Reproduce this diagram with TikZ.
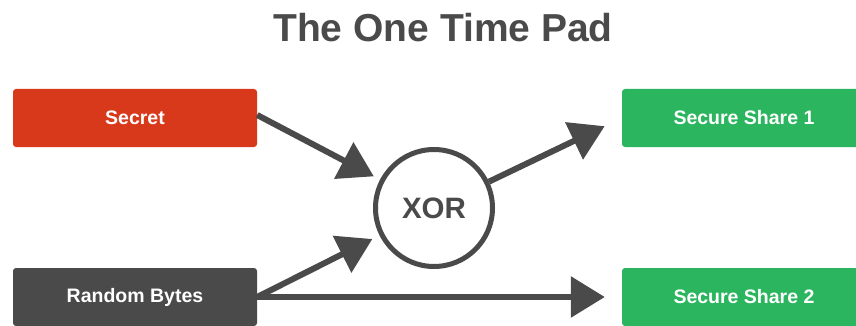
\documentclass[tikz,border=0pt]{standalone}
\usepackage{fontspec}
\setmainfont{Liberation Sans}
\usetikzlibrary{arrows.meta,positioning}
\definecolor{secretred}{HTML}{D9391B}
\definecolor{sharegreen}{HTML}{2AB55E}
\definecolor{darkgrey}{HTML}{4A4A4A}

\begin{document}
\begin{tikzpicture}[x=1pt, y=-1pt,
  box/.style={rounded corners=3pt, minimum width=244pt, minimum height=58pt,
    inner sep=0pt, text=white, font=\fontsize{19.5}{22}\selectfont\bfseries},
  arr/.style={-{Triangle[length=34pt,width=40pt]}, line width=6pt, darkgrey}]
  \useasboundingbox (0,0) rectangle (856,326);
  % Title
  \node[anchor=base, text=darkgrey, font=\fontsize{39}{44}\selectfont\bfseries]
    (title) at (443,42) {The One Time Pad};
  % Inputs
  \node[box, fill=secretred] (secret) at (135,118) {Secret};
  \node[box, fill=darkgrey] (random) at (135,297) {Random Bytes};
  % XOR gate
  \node[circle, draw=darkgrey, line width=5pt, minimum size=117pt, inner sep=0pt,
    text=darkgrey, font=\fontsize{29.5}{32}\selectfont\bfseries] (xor) at (434,208) {XOR};
  % Outputs (run off the right edge)
  \node[box, fill=sharegreen] (share1) at (744,118) {Secure Share 1};
  \node[box, fill=sharegreen] (share2) at (744,297) {Secure Share 2};
  % Connectors
  \draw[arr, shorten >=7pt] ([yshift=3pt]secret.east) -- (xor);
  \draw[arr, shorten >=8pt] (random.east) -- (xor);
  \draw[arr, shorten >=19pt] (xor) -- (share1.west);
  \draw[arr, shorten >=17pt] (random.east) -- (share2.west);
\end{tikzpicture}
\end{document}
